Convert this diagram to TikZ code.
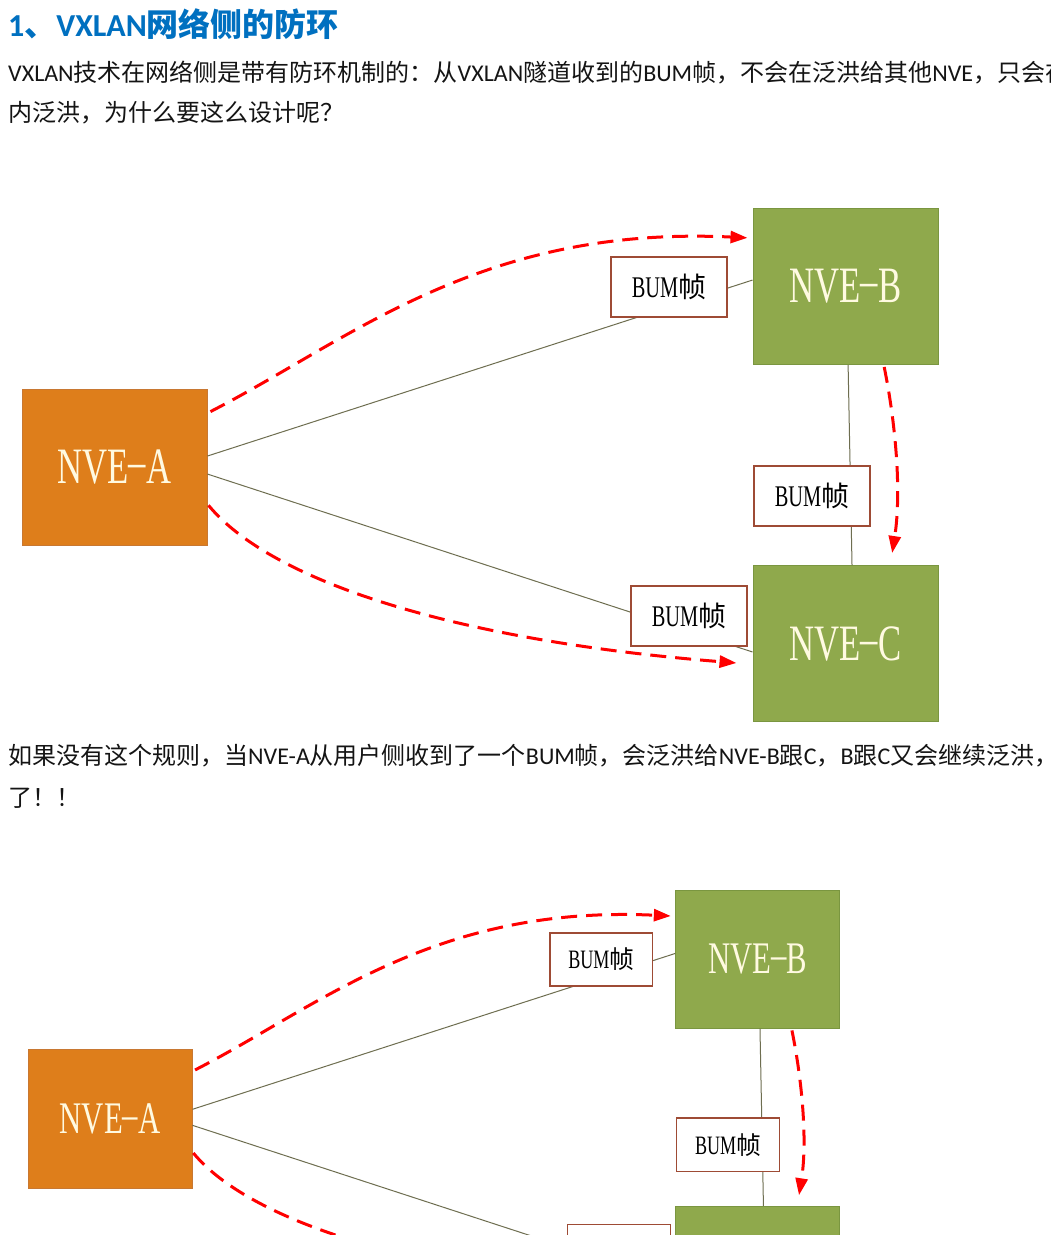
\documentclass[tikz,border=0pt]{standalone}
\usepackage{fontspec}
\usetikzlibrary{arrows.meta,calc}
\newfontfamily\latfont{Carlito}
\newfontfamily\cjkfont{Noto Sans CJK SC}
\newfontfamily\nvefont[FakeStretch=0.68]{Liberation Serif}
\newcommand\lat[1]{{\latfont #1}}
\newcommand\nvedash{\raisebox{5pt}{–}}
\definecolor{titleblue}{RGB}{0,112,192}
\definecolor{orangefill}{RGB}{222,126,27}
\definecolor{orangeline}{RGB}{200,120,50}
\definecolor{greenfill}{RGB}{143,169,76}
\definecolor{greenline}{RGB}{122,150,64}
\definecolor{nvetext}{RGB}{255,250,225}
\definecolor{bumline}{RGB}{158,75,53}
\definecolor{linkcol}{RGB}{110,110,80}
\definecolor{flowred}{RGB}{255,0,0}
\definecolor{bodytext}{RGB}{20,20,20}
\tikzset{
  nvebox/.style={line width=1pt, minimum width=185pt, minimum height=156pt,
    inner sep=0pt, text=nvetext, font=\nvefont\fontsize{51}{51}\selectfont},
  nvea/.style={nvebox, fill=orangefill, draw=orangeline},
  nveg/.style={nvebox, fill=greenfill, draw=greenline},
  bum/.style={draw=bumline, fill=white, line width=1.4pt, minimum width=116pt,
    minimum height=60pt, inner sep=0pt, text=black},
  link/.style={draw=linkcol, line width=1pt},
  flow/.style={draw=flowred, line width=3pt, dash pattern=on 16pt off 9pt,
    -{Triangle[length=17pt,width=12pt]}},
  para/.style={anchor=base west, inner sep=0pt, text=bodytext,
    font=\cjkfont\fontsize{24}{28}\selectfont},
}
\newcommand\bumtext{{\nvefont\fontsize{30}{30}\selectfont BUM}{\cjkfont\fontsize{28}{28}\selectfont 帧}}
\newcommand\drawnet{%
  \node[nvea] (A) at (114.5,467) {NVE\nvedash A};
  \node[nveg] (B) at (845.5,286.5) {NVE\nvedash B};
  \node[nveg] (C) at (845.5,643.5) {NVE\nvedash C};
  \draw[link] ($(A.north east)!0.43!(A.south east)$) -- ($(B.north west)!0.459!(B.south west)$);
  \draw[link] ($(A.north east)!0.545!(A.south east)$) -- ($(C.north west)!0.554!(C.south west)$);
  \draw[link] ($(B.south west)!0.514!(B.south east)$) -- ($(C.north west)!0.535!(C.north east)$);
  \node[bum] (l1) at (669,287) {\bumtext};
  \node[bum] (l2) at (812,496) {\bumtext};
  \node[bum] (l3) at (689,616) {\bumtext};
  \coordinate (f1s) at ($(A.north east)!0.147!(A.south east)+(3,0)$);
  \coordinate (f1e) at ($(B.north west)!0.19!(B.south west)+(-5,0)$);
  \coordinate (f2s) at ($(A.north east)!0.744!(A.south east)+(1,0)$);
  \coordinate (f2e) at ($(C.north west)!0.624!(C.south west)+(-16,0)$);
  \coordinate (f3s) at ($(B.south west)!0.708!(B.south east)+(0,2)$);
  \coordinate (f3e) at ($(C.north west)!0.751!(C.north east)+(0,-12)$);
  \draw[flow] (f1s) .. controls (350,340) and (480,225) .. (f1e);
  \draw[flow] (f2s) .. controls (270,580) and (450,640) .. (f2e);
  \draw[flow] (f3s) .. controls (895,420) and (902,490) .. (f3e);
}
\begin{document}
\begin{tikzpicture}[x=1pt,y=-1pt]
\useasboundingbox (0,0) rectangle (1051,1235);
\clip (0,0) rectangle (1051,1235);
\fill[white] (0,0) rectangle (1051,1235);
\node[anchor=base west, inner sep=0pt, text=titleblue,
  font=\cjkfont\bfseries\fontsize{32}{32}\selectfont] (title) at (8,36)
  {\lat{1}、\lat{VXLAN}网络侧的防环};
\node[para] (p1) at (8,81) {\lat{VXLAN}技术在网络侧是带有防环机制的：从\lat{VXLAN}隧道收到的\lat{BUM}帧，不会在泛洪给其他\lat{NVE}，只会在};
\node[para] (p2) at (8,121) {内泛洪，为什么要这么设计呢？};
\node[para] (p3) at (8,764) {如果没有这个规则，当\lat{NVE-A}从用户侧收到了一个\lat{BUM}帧，会泛洪给\lat{NVE-B}跟\lat{C}，\lat{B}跟\lat{C}又会继续泛洪，};
\node[para] (p4) at (8,806) {了！！};
\begin{scope}[name prefix=t-]
\drawnet
\end{scope}
\begin{scope}[shift={(8.6,705.3)}, scale=0.886, transform shape, name prefix=b-]
\drawnet
\end{scope}
\end{tikzpicture}
\end{document}
